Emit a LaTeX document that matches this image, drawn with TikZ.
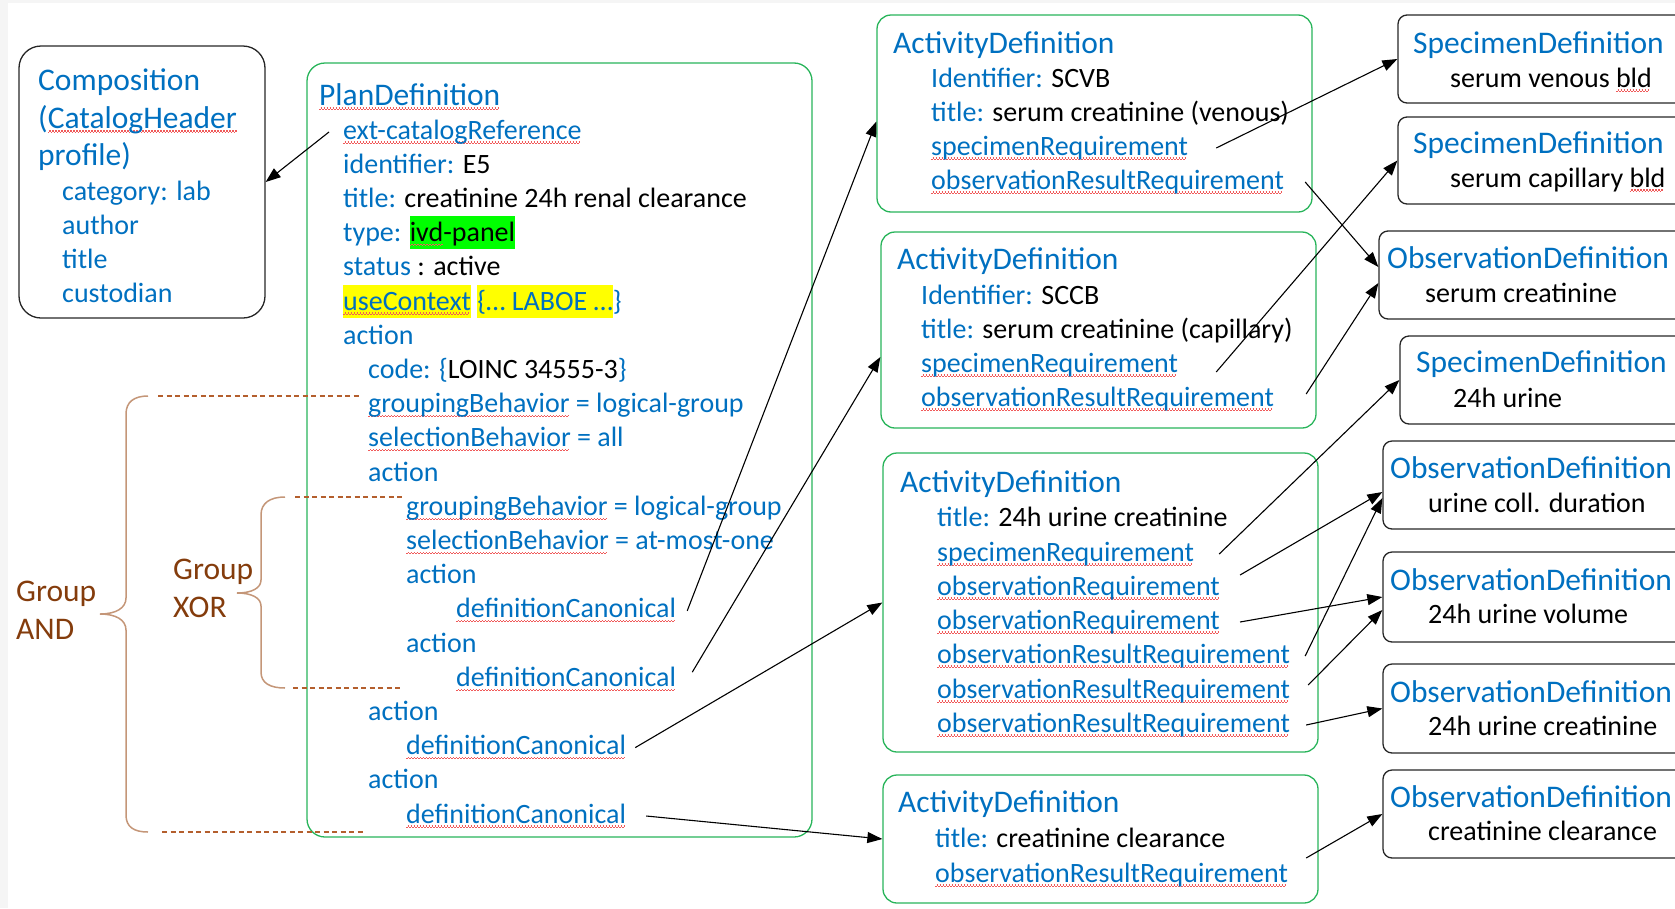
\documentclass[tikz,border=0pt]{standalone}
\usepackage{fontspec}
\setmainfont{Carlito}
\usetikzlibrary{arrows.meta,positioning,fit}
\definecolor{fhirblue}{RGB}{0,112,192}
\definecolor{boxgreen}{RGB}{40,180,90}
\definecolor{grpbrown}{RGB}{132,60,12}
\definecolor{bracebrown}{RGB}{196,150,120}
\definecolor{dashbrown}{RGB}{180,95,45}
\definecolor{hlgreen}{RGB}{0,255,0}
\definecolor{hlyellow}{RGB}{255,255,0}
\definecolor{wavered}{RGB}{240,90,90}
\newsavebox\wvbox
\newcommand\wv[1]{\sbox\wvbox{#1}\rlap{\color{wavered}\leaders\hbox{\rule[-4.6pt]{1.5pt}{1.1pt}\rule[-3.5pt]{1.5pt}{1.1pt}}\hskip\wd\wvbox}\usebox\wvbox}
\newcommand\bk[1]{\textcolor{black}{#1}}
\newcommand\hl[2]{{\setlength\fboxsep{0pt}\colorbox{#1}{\vrule height 25.5pt depth 7.5pt width 0pt #2}}}
\tikzstyle{txt}=[anchor=base west,inner sep=0pt,text=fhirblue,font=\fontsize{28}{34}\selectfont,text height=20pt,text depth=6pt]
\tikzstyle{ttl}=[txt,font=\fontsize{31.5}{38}\selectfont]
\tikzstyle{blk}=[txt,text=black]
\tikzstyle{grp}=[ttl,text=grpbrown]
\tikzstyle{pdbox}=[draw=boxgreen,line width=1.3pt,rounded corners=18pt,inner sep=0pt]
\tikzstyle{adbox}=[pdbox,rounded corners=14pt]
\tikzstyle{defbox}=[draw=black!85,line width=1.3pt,rounded corners=9pt,inner sep=0pt]
\tikzstyle{compbox}=[defbox,rounded corners=22pt]
\tikzstyle{conn}=[line width=1.1pt,-{Triangle[length=15pt,width=11pt]}]
\tikzstyle{brc}=[draw=bracebrown,line width=1.5pt]
\tikzstyle{grpdash}=[draw=dashbrown,line width=1.3pt,dash pattern=on 5pt off 3.5pt]

\begin{document}
\begin{tikzpicture}[x=1pt,y=-1pt]
            \useasboundingbox (0,0) rectangle (1675,908);
            \clip (0,0) rectangle (1675,908);
            \fill[gray!8] (0,0) rectangle (8,908);
            \fill[gray!8] (0,0) rectangle (1675,3);

            % COMPOSITION PART

            \node[compbox,fit={(19,46) (265,318)}] (comp) {};
            \node[ttl] (c1) at (38,90) {Composition};
            \node[ttl] (c2) at (38,128) {(\wv{CatalogHeader}};
            \node[ttl] (c3) at (38,165) {profile)};
            \node[txt] (c4) at (62,200) {category: lab};
            \node[txt] (c5) at (62,234) {author};
            \node[txt] (c6) at (62,268) {title};
            \node[txt] (c7) at (62,302) {custodian};

            % PLANDEFINITION PART

            \node[pdbox,fit={(307,63) (812,837)}] (pd) {};
            \node[ttl] (p0) at (319,105) {\wv{PlanDefinition}};
            \node[txt] (p1) at (343,139) {\wv{ext-catalogReference}};
            \node[txt] (p2) at (343,173.2) {identifier: \bk{E5}};
            \node[txt] (p3) at (343,207.4) {title: \bk{creatinine 24h renal clearance}};
            \node[txt] (p4) at (343,241.6) {type: \hl{hlgreen}{\bk{\wv{ivd}-panel}}};
            \node[txt] (p5) at (343,275.8) {status \bk{: active}};
            \node[txt] (p6) at (343,310) {\hl{hlyellow}{\wv{useContext}} \hl{hlyellow}{\{… LABOE …}\}};
            \node[txt] (p7) at (343,344.2) {action};
            \node[txt] (p8) at (368,378.4) {code: \{\bk{LOINC 34555-3}\}};
            \node[txt] (p9) at (368,412.6) {\wv{groupingBehavior} = logical-group};
            \node[txt] (p10) at (368,446.8) {\wv{selectionBehavior} = all};
            \node[txt] (p11) at (368,481) {action};
            \node[txt] (p12) at (406,515.2) {\wv{groupingBehavior} = logical-group};
            \node[txt] (p13) at (406,549.4) {\wv{selectionBehavior} = at-most-one};
            \node[txt] (p14) at (406,583.6) {action};
            \node[txt] (p15) at (456,617.8) {\wv{definitionCanonical}};
            \node[txt] (p16) at (406,652) {action};
            \node[txt] (p17) at (456,686.2) {\wv{definitionCanonical}};
            \node[txt] (p18) at (368,720.4) {action};
            \node[txt] (p19) at (406,754.6) {\wv{definitionCanonical}};
            \node[txt] (p20) at (368,788.8) {action};
            \node[txt] (p21) at (406,823) {\wv{definitionCanonical}};

            % GROUPS

            \draw[brc] (148,396) .. controls (134,396) and (126,402) .. (126,414) -- (126,598)
                .. controls (126,608) and (116,614) .. (100,614) .. controls (116,614) and (126,620) .. (126,630)
                -- (126,815) .. controls (126,827) and (134,832) .. (148,832);
            \draw[grpdash] (158,396) -- (361,396);
            \draw[grpdash] (162,832) -- (363,832);
            \draw[brc] (285,497) .. controls (270,497) and (261,503) .. (261,515) -- (261,580)
                .. controls (261,588) and (252,593) .. (237,593) .. controls (252,593) and (261,598) .. (261,606)
                -- (261,672) .. controls (261,683) and (270,688) .. (285,688);
            \draw[grpdash] (295,497) -- (403,497);
            \draw[grpdash] (293,688) -- (400,688);
            \node[grp] (gand1) at (16,601) {Group};
            \node[grp] (gand2) at (16,639) {AND};
            \node[grp] (gxor1) at (173,579) {Group};
            \node[grp] (gxor2) at (173,617) {XOR};

            % ACTIVITYDEFINITION PART

            \node[adbox,fit={(877,15) (1312,212)}] (ad1) {};
            \node[ttl] (a10) at (893,53) {ActivityDefinition};
            \node[txt] (a11) at (931,87) {Identifier: \bk{SCVB}};
            \node[txt] (a12) at (931,121) {title: \bk{serum creatinine (venous)}};
            \node[txt] (a13) at (931,155) {\wv{specimenRequirement}};
            \node[txt] (a14) at (931,189) {\wv{observationResultRequirement}};

            \node[adbox,fit={(881,232) (1316,428)}] (ad2) {};
            \node[ttl] (a20) at (897,269) {ActivityDefinition};
            \node[txt] (a21) at (921,304) {Identifier: \bk{SCCB}};
            \node[txt] (a22) at (921,338) {title: \bk{serum creatinine (capillary)}};
            \node[txt] (a23) at (921,372) {\wv{specimenRequirement}};
            \node[txt] (a24) at (921,406) {\wv{observationResultRequirement}};

            \node[adbox,fit={(883,453) (1318,752)}] (ad3) {};
            \node[ttl] (a30) at (900,492) {ActivityDefinition};
            \node[txt] (a31) at (937,526) {title: \bk{24h urine creatinine}};
            \node[txt] (a32) at (937,561) {\wv{specimenRequirement}};
            \node[txt] (a33) at (937,595) {\wv{observationRequirement}};
            \node[txt] (a34) at (937,629) {\wv{observationRequirement}};
            \node[txt] (a35) at (937,663) {\wv{observationResultRequirement}};
            \node[txt] (a36) at (937,698) {\wv{observationResultRequirement}};
            \node[txt] (a37) at (937,732) {\wv{observationResultRequirement}};

            \node[adbox,fit={(883,775) (1318,903)}] (ad4) {};
            \node[ttl] (a40) at (898,812) {ActivityDefinition};
            \node[txt] (a41) at (935,847) {title: \bk{creatinine clearance}};
            \node[txt] (a42) at (935,882) {\wv{observationResultRequirement}};

            % SPECIMEN / OBSERVATION DEFINITIONS

            \node[defbox,fit={(1398,15) (1700,103)}] (sd1) {};
            \node[ttl] (s10) at (1413,53) {SpecimenDefinition};
            \node[blk] (s11) at (1450,87) {serum venous \wv{bld}};
            \node[defbox,fit={(1398,117) (1700,204)}] (sd2) {};
            \node[ttl] (s20) at (1413,153) {SpecimenDefinition};
            \node[blk] (s21) at (1450,187) {serum capillary \wv{bld}};
            \node[defbox,fit={(1379,231) (1700,319)}] (od1) {};
            \node[ttl] (o10) at (1387,268) {ObservationDefinition};
            \node[blk] (o11) at (1425,302) {serum creatinine};
            \node[defbox,fit={(1400,336) (1700,424)}] (sd3) {};
            \node[ttl] (s30) at (1416,372) {SpecimenDefinition};
            \node[blk] (s31) at (1453,407) {24h urine};
            \node[defbox,fit={(1383,441) (1700,529)}] (od2) {};
            \node[ttl] (o20) at (1390,478) {ObservationDefinition};
            \node[blk] (o21) at (1428,512) {urine coll. duration};
            \node[defbox,fit={(1383,552) (1700,642)}] (od3) {};
            \node[ttl] (o30) at (1390,590) {ObservationDefinition};
            \node[blk] (o31) at (1428,623) {24h urine volume};
            \node[defbox,fit={(1383,664) (1700,753)}] (od4) {};
            \node[ttl] (o40) at (1390,702) {ObservationDefinition};
            \node[blk] (o41) at (1428,735) {24h urine creatinine};
            \node[defbox,fit={(1383,770) (1700,858)}] (od5) {};
            \node[ttl] (o50) at (1390,807) {ObservationDefinition};
            \node[blk] (o51) at (1428,840) {creatinine clearance};

            % References

            \path[conn] ([xshift=-14pt]p1.west) edge (comp.east);
            \path[conn] ([xshift=11pt]p15.east) edge ([yshift=-8pt]ad1.west);
            \path[conn] ([xshift=16pt,yshift=7pt]p17.east) edge ([yshift=-27pt]ad2.west);
            \path[conn] ([xshift=9pt]p19.east) edge (ad3.west);
            \path[conn] ([xshift=20pt]p21.east) edge (ad4.west);

            \path[conn] ([xshift=28pt]a13.east) edge (sd1.west);
            \path[conn] ([xshift=21pt]a14.east) edge ([yshift=8pt]od1.west);
            \path[conn] ([xshift=38pt,yshift=-7pt]a23.east) edge (sd2.west);
            \path[conn] ([xshift=32pt,yshift=5pt]a24.east) edge ([yshift=-8pt]od1.west);
            \path[conn] ([xshift=25pt]a32.east) edge (sd3.west);
            \path[conn] ([xshift=20pt,yshift=13pt]a33.east) edge ([yshift=-7pt]od2.west);
            \path[conn] ([xshift=20pt]a34.east) edge (od3.west);
            \path[conn] ([xshift=15pt]a35.east) edge ([yshift=-13pt]od2.west);
            \path[conn] ([xshift=18pt,yshift=6pt]a36.east) edge ([yshift=-13pt]od3.west);
            \path[conn] ([xshift=16pt]a37.east) edge (od4.west);
            \path[conn] ([xshift=18pt,yshift=17pt]a42.east) edge (od5.west);

        \end{tikzpicture}
\end{document}
